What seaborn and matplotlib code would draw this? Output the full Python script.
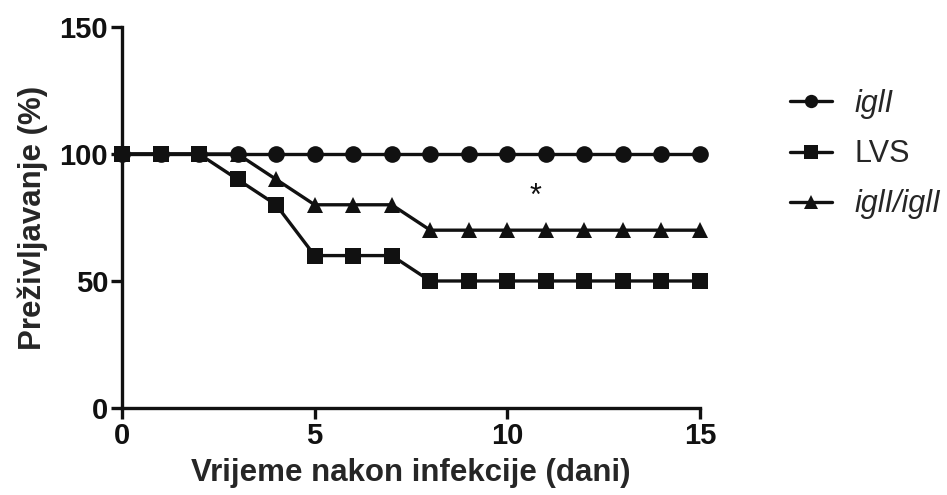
import numpy as np
import pandas as pd
import matplotlib
matplotlib.use("Agg")
import matplotlib.pyplot as plt
import seaborn as sns

days = list(range(16))
igli = [100] * 16
lvs = [100, 100, 100, 90, 80, 60, 60, 60, 50, 50, 50, 50, 50, 50, 50, 50]
igli_igli = [100, 100, 100, 100, 90, 80, 80, 80, 70, 70, 70, 70, 70, 70, 70, 70]
groups = ["iglI", "LVS", "iglI/iglI"]
star_pos = (10.72, 80)

sns.set_theme(style="ticks")
plt.rcParams["font.family"] = ["Liberation Sans", "DejaVu Sans"]

df = pd.concat([
    pd.DataFrame({"dan": days, "prez": igli, "soj": "iglI"}),
    pd.DataFrame({"dan": days, "prez": lvs, "soj": "LVS"}),
    pd.DataFrame({"dan": days, "prez": igli_igli, "soj": "iglI/iglI"}),
])

fig = plt.figure(figsize=(9.47, 4.95), dpi=100)
ax = fig.add_axes([0.1288, 0.1758, 0.6104, 0.7697])

# draw order: triangles under circles, squares on top
sns.lineplot(data=df, x="dan", y="prez", hue="soj", style="soj",
             hue_order=["iglI/iglI", "iglI", "LVS"],
             style_order=["iglI/iglI", "iglI", "LVS"],
             palette=["#111111"] * 3, markers={"iglI": "o", "LVS": "s", "iglI/iglI": "^"},
             dashes=False, markersize=12, linewidth=2.4, markeredgewidth=0,
             ax=ax, legend=True)
for ln in ax.lines:
    ln.set_clip_on(False)

ax.set_xlim(0, 15)
ax.set_ylim(0, 150)
ax.set_xticks([0, 5, 10, 15])
ax.set_yticks([0, 50, 100, 150])
for s in ["top", "right"]:
    ax.spines[s].set_visible(False)
for s in ["left", "bottom"]:
    ax.spines[s].set_linewidth(2.4)
    ax.spines[s].set_color("#111111")
ax.tick_params(width=2.4, length=8, labelsize=21, colors="#111111", pad=2)
for t in ax.get_xticklabels() + ax.get_yticklabels():
    t.set_fontweight("bold")
ax.set_xlabel("Vrijeme nakon infekcije (dani)", fontsize=22.5, fontweight="bold", labelpad=6)
ax.set_ylabel("Preživljavanje (%)", fontsize=22.5, fontweight="bold", labelpad=8)

ax.text(star_pos[0], star_pos[1], "*", fontsize=22, ha="center", va="baseline", color="#111111")

handles, labels = ax.get_legend_handles_labels()
hmap = dict(zip(labels, handles))
leg = ax.legend([hmap[g] for g in groups], groups, loc="upper left",
                bbox_to_anchor=(0.834, 0.82), bbox_transform=fig.transFigure,
                frameon=False, fontsize=22, handlelength=1.37, handletextpad=0.75,
                labelspacing=0.66, markerscale=0.8, borderpad=0, borderaxespad=0)
for t in leg.get_texts():
    if t.get_text() != "LVS":
        t.set_fontstyle("italic")

fig.savefig("out.png", dpi=100)
